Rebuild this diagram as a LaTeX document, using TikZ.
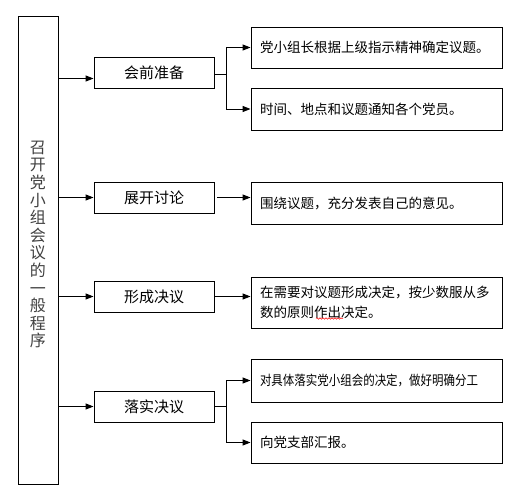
\documentclass[tikz,border=0pt]{standalone}
\usepackage{fontspec}
\usepackage{graphicx}
\newfontfamily\cjk{Noto Sans CJK SC}
\usetikzlibrary{arrows.meta,decorations.pathmorphing}
\begin{document}
\begin{tikzpicture}[x=1pt,y=-1pt,
  box/.style={draw,line width=0.9pt,inner sep=0pt},
  mid/.style={box,minimum width=120pt,minimum height=31pt,font=\cjk\fontsize{15}{18}\selectfont},
  rbox/.style={box,minimum width=251pt,text width=233pt,align=left,inner xsep=9pt,font=\cjk\fontsize{13.5}{20}\selectfont},
  arr/.style={line width=0.9pt,-{Triangle[length=8pt,width=6pt]}},
  ln/.style={line width=0.9pt}]
\useasboundingbox (0,0) rectangle (520,495);
% left box
\node[box,minimum width=40pt,minimum height=468pt] (L) at (38,250) {};
\node[text=black!75,align=center,font=\cjk\fontsize{16}{17.6}\selectfont] (Lt) at (38,244.5)
  {召\\开\\党\\小\\组\\会\\议\\的\\一\\般\\程\\序};
% middle boxes
\node[mid] (m1) at (154,72.5) {会前准备};
\node[mid] (m2) at (154,197.5) {展开讨论};
\node[mid] (m3) at (154,296.5) {形成决议};
\node[mid] (m4) at (154,406.5) {落实决议};
% right boxes
\node[rbox,minimum height=41pt] (r1) at (376.5,47.5) {党小组长根据上级指示精神确定议题。};
\node[rbox,minimum height=42pt] (r2) at (376.5,109) {时间、地点和议题通知各个党员。};
\node[rbox,minimum height=42pt] (r3) at (376.5,203) {围绕议题，充分发表自己的意见。};
\node[rbox,minimum height=51pt] (r4) at (376.5,302.5) {在需要对议题形成决定，按少数服从多\\数的原则作出决定。};
\node[rbox,minimum height=43pt] (r5) at (376.5,380.5) {\scalebox{0.85}[1]{对具体落实党小组会的决定，做好明确分工}};
\node[rbox,minimum height=41pt] (r6) at (376.5,442.5) {向党支部汇报。};
% spell-check mark
\draw[red,line width=0.5pt,decorate,decoration={snake,amplitude=0.8pt,segment length=3pt}] (316,318.5) -- (343,318.5);
% left to middle
\coordinate (a1) at ([yshift=-6pt]m1.west);
\draw[arr] (L.east |- a1) -- (a1);
\draw[arr] (L.east |- m2.west) -- (m2.west);
\draw[arr] (L.east |- m3.west) -- (m3.west);
\draw[arr] (L.east |- m4.west) -- (m4.west);
% branch 1
\coordinate (e1) at ([yshift=-2pt]m1.east);
\draw[ln] (e1) -- ++(12,0) coordinate (b1);
\draw[ln] (b1 |- r1.west) -- (b1 |- r2.west);
\draw[arr] (b1 |- r1.west) -- (r1.west);
\draw[arr] (b1 |- r2.west) -- (r2.west);
% single
\draw[arr] ([xshift=3pt]m2.east) -- (r3.west |- m2.east);
\draw[arr] (m3.east) -- (r4.west |- m3.east);
% branch 4
\draw[ln] (m4.east) -- ++(12,0) coordinate (b4);
\draw[ln] (b4 |- r5.west) -- (b4 |- r6.west);
\draw[arr] (b4 |- r5.west) -- (r5.west);
\draw[arr] (b4 |- r6.west) -- (r6.west);
\end{tikzpicture}
\end{document}
